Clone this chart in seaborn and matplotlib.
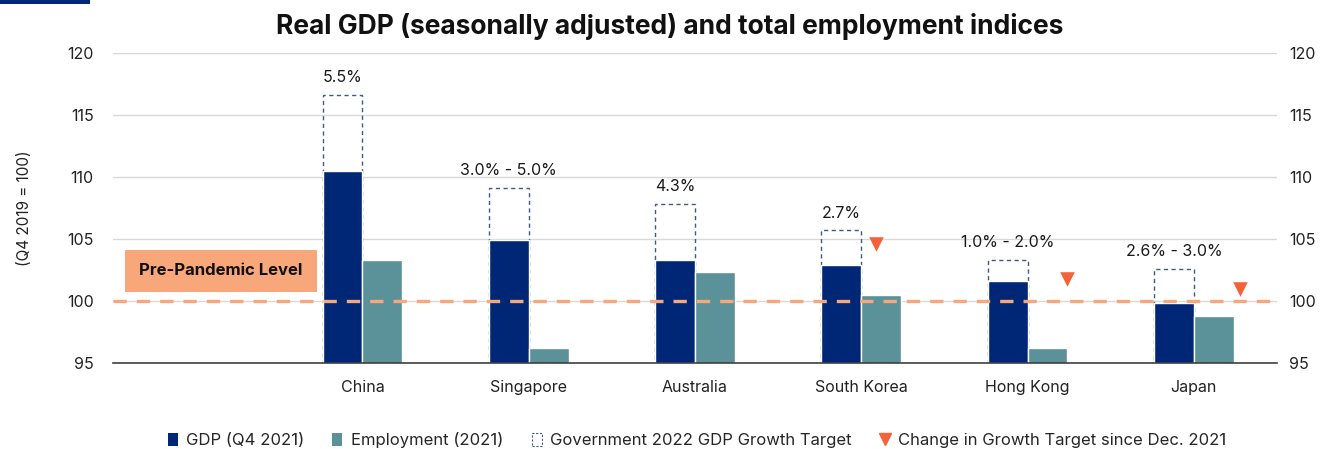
import numpy as np
import pandas as pd
import matplotlib
matplotlib.use("Agg")
import matplotlib.pyplot as plt
from matplotlib.patches import Rectangle, Patch
from matplotlib.lines import Line2D
import seaborn as sns

# ---- data ----
countries = ["", "China", "Singapore", "Australia", "South Korea", "Hong Kong", "Japan"]
gdp = [np.nan, 110.5, 104.95, 103.3, 102.9, 101.65, 99.8]
employment = [np.nan, 103.3, 96.2, 102.3, 100.45, 96.2, 98.8]
target = [np.nan, 116.6, 109.1, 107.85, 105.7, 103.3, 102.6]
target_labels = ["", "5.5%", "3.0% - 5.0%", "4.3%", "2.7%", "1.0% - 2.0%", "2.6% - 3.0%"]
cut_value = [np.nan, np.nan, np.nan, np.nan, 104.6, 101.8, 101.0]
cut_offset = [0, 0, 0, 0, 0.09, 0.235, 0.275]
yticks = [95, 100, 105, 110, 115, 120]
pre_pandemic = 100

NAVY = "#002776"
TEAL = "#5B9299"
ORANGE = "#F8A77A"
RED = "#F4623A"
BOXEDGE = "#3D5A8A"

sns.set_theme(style="white")
plt.rcParams["font.family"] = ["Inter", "DejaVu Sans"]

df = pd.DataFrame({
    "country": countries * 2,
    "series": ["GDP (Q4 2021)"] * len(countries) + ["Employment (2021)"] * len(countries),
    "value": gdp + employment,
}).dropna()

fig = plt.figure(figsize=(13.24, 4.49), dpi=100)
ax = fig.add_axes([113 / 1324, 1 - 363 / 449, (1277 - 113) / 1324, (363 - 53) / 449])

ax.set_ylim(95, 120)
ax.set_yticks(yticks)
ax.yaxis.grid(True, color="#D9D9D9", lw=1)
ax.set_axisbelow(True)

x = np.arange(len(countries))
bw = 0.24
# target boxes (behind)
ax.bar(x - bw / 2, np.array(target) - 95, bottom=95, width=bw, fill=False,
       edgecolor=BOXEDGE, linewidth=1.0, linestyle=(0, (3, 2.5)), zorder=1.5)

sns.barplot(data=df, x="country", y="value", hue="series", order=countries,
            hue_order=["GDP (Q4 2021)", "Employment (2021)"],
            palette=[NAVY, TEAL], width=2 * bw, dodge=True, saturation=1,
            legend=False, ax=ax, zorder=2, errorbar=None)
ax.set_ylim(95, 120)
ax.set_xlim(-0.5, len(countries) - 0.5)

# target labels
for i, (t, lab) in enumerate(zip(target, target_labels)):
    if lab:
        ax.annotate(lab, (i - bw / 2, t), xytext=(0, 7), textcoords="offset points",
                    ha="center", va="bottom", fontsize=11.5, color="#1a1a1a")

# pre-pandemic line
ax.axhline(pre_pandemic, color=ORANGE, lw=2.4, dashes=(4, 3), zorder=3)

# change triangles
cx = [i + o for i, (o, v) in enumerate(zip(cut_offset, cut_value)) if not np.isnan(v)]
cy = [v for v in cut_value if not np.isnan(v)]
ax.scatter(cx, cy, marker="v", s=110, color=RED, linewidths=0, zorder=4)

# pre-pandemic label box
ax.add_patch(Rectangle((-0.428, 100.73), 1.155, 3.37, facecolor=ORANGE,
                       edgecolor="none", zorder=2))
ax.text(0.15, 102.42, "Pre-Pandemic Level", ha="center", va="center",
        fontsize=12, fontweight="bold", color="#111111", zorder=3)

# spines & ticks
for s in ["top", "left", "right"]:
    ax.spines[s].set_visible(False)
ax.spines["bottom"].set_color("#404040")
ax.spines["bottom"].set_linewidth(1.2)
ax.set_xlabel("")
ax.set_ylabel("(Q4 2019 = 100)", fontsize=11, color="#222222", labelpad=25)
ax.tick_params(axis="y", length=0, labelsize=11.5, labelcolor="#222222", pad=14)
ax.tick_params(axis="x", length=0, labelsize=11.5, labelcolor="#222222", pad=12)

# right-hand axis labels
ax2 = ax.twinx()
ax2.set_ylim(ax.get_ylim())
ax2.set_yticks(yticks)
ax2.tick_params(axis="y", length=0, labelsize=11.5, labelcolor="#222222", pad=9)
for s in ax2.spines.values():
    s.set_visible(False)
ax2.grid(False)

# title
fig.text(670 / 1324, 1 - 27 / 449, "Real GDP (seasonally adjusted) and total employment indices",
         ha="center", va="center", fontsize=19, fontweight="bold", color="#111111")

# navy top-left bar
fig.patches.append(Rectangle((0, 1 - 4 / 449), 90 / 1324, 4 / 449, transform=fig.transFigure,
                             facecolor=NAVY, edgecolor="none"))

# legend
handles = [
    Patch(facecolor=NAVY, edgecolor="none"),
    Patch(facecolor=TEAL, edgecolor="none"),
    Patch(facecolor="white", edgecolor=BOXEDGE, linestyle=(0, (2, 1.5)), linewidth=0.8),
    Line2D([], [], marker="v", color=RED, linestyle="none", markersize=9),
]
labels = ["GDP (Q4 2021)", "Employment (2021)", "Government 2022 GDP Growth Target",
          "Change in Growth Target since Dec. 2021"]
fig.legend(handles, labels, loc="center", bbox_to_anchor=(697 / 1324, 1 - 440 / 449),
           ncol=4, frameon=False, fontsize=12, handlelength=0.6, handleheight=0.8,
           handletextpad=0.5, columnspacing=1.7)

fig.savefig("out.png", dpi=100)
